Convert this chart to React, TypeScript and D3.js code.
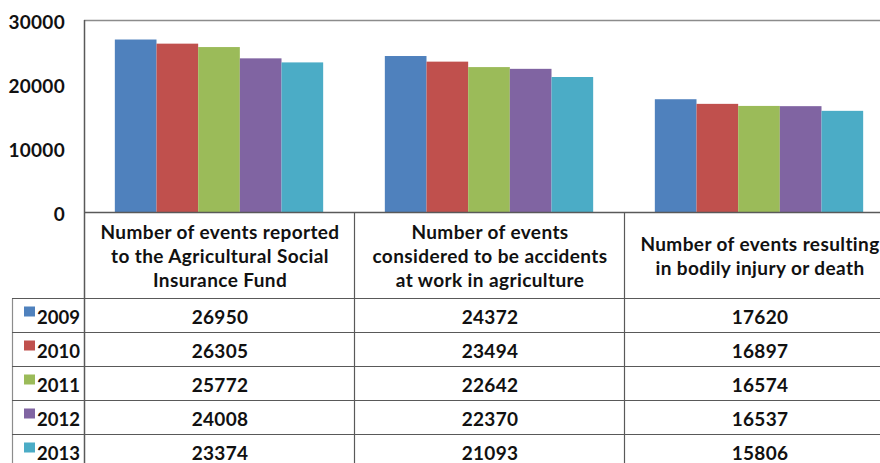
import React from "react";
import * as d3 from "d3";

const categories: string[][] = [
  ["Number of events reported", "to the Agricultural Social", "Insurance Fund"],
  ["Number of events", "considered to be accidents", "at work in agriculture"],
  ["Number of events resulting", "in bodily injury or death"],
];
const years = ["2009", "2010", "2011", "2012", "2013"];
const v2009 = [26950, 24372, 17620];
const v2010 = [26305, 23494, 16897];
const v2011 = [25772, 22642, 16574];
const v2012 = [24008, 22370, 16537];
const v2013 = [23374, 21093, 15806];
const seriesValues = [v2009, v2010, v2011, v2012, v2013];
const yTicks = [0, 10000, 20000, 30000];
const colors = ["#4F81BD", "#C0504D", "#9BBB59", "#8064A2", "#4BACC6"];

const W = 880;
const H = 463;
const plotLeft = 84;
const plotTop = 20;
const plotBottom = 212;
const headerBottom = 298.5;
const rowH = 34;
const tableLeft = 12;
const FONT = "Lato, 'Open Sans', sans-serif";

export default function App() {
  const x0 = d3
    .scaleBand<number>()
    .domain(d3.range(categories.length))
    .range([plotLeft, plotLeft + 810])
    .padding(0);
  const x1 = d3
    .scaleBand<string>()
    .domain(years)
    .range([0, x0.bandwidth()])
    .paddingInner(0)
    .paddingOuter(0.74);
  const y = d3.scaleLinear().domain([0, 30000]).range([plotBottom, plotTop]);

  const lineColor = "#595959";
  const borderColor = "#8c8c8c";

  return (
    <svg
      width={W}
      height={H}
      style={{ position: "absolute", left: 0, top: 0, background: "#fff" }}
      fontFamily={FONT}
    >
      <rect x={0} y={0} width={W} height={H} fill="#fff" />
      {/* plot border */}
      <line x1={plotLeft} x2={W} y1={plotTop + 0.5} y2={plotTop + 0.5} stroke={borderColor} strokeWidth={1.5} />
      <line x1={plotLeft + 0.5} x2={plotLeft + 0.5} y1={plotTop} y2={H} stroke={lineColor} strokeWidth={1.5} />

      {/* bars */}
      {seriesValues.map((vals, si) =>
        vals.map((v, ci) => (
          <rect
            key={`${si}-${ci}`}
            x={(x0(ci) as number) + (x1(years[si]) as number)}
            y={y(v)}
            width={x1.bandwidth()}
            height={plotBottom - y(v)}
            fill={colors[si]}
          />
        ))
      )}

      {/* y ticks */}
      {yTicks.map((t) => (
        <text
          key={t}
          x={65}
          y={y(t) + 1}
          textAnchor="end"
          dominantBaseline="central"
          fontSize={19}
          fontWeight="bold"
          letterSpacing={0.3}
          fill="#111"
        >
          {t}
        </text>
      ))}

      {/* axis line */}
      <line x1={plotLeft} x2={W} y1={plotBottom + 0.5} y2={plotBottom + 0.5} stroke={lineColor} strokeWidth={1.5} />

      {/* table vertical lines */}
      {d3.range(1, categories.length).map((i) => (
        <line
          key={i}
          x1={(x0(i) as number) + 0.5}
          x2={(x0(i) as number) + 0.5}
          y1={plotBottom}
          y2={H}
          stroke={lineColor}
          strokeWidth={1.2}
        />
      ))}
      <line x1={tableLeft + 0.5} x2={tableLeft + 0.5} y1={headerBottom} y2={H} stroke={borderColor} strokeWidth={1.2} />

      {/* horizontal table lines */}
      {d3.range(years.length + 1).map((i) => (
        <line
          key={i}
          x1={tableLeft}
          x2={W}
          y1={headerBottom + i * rowH}
          y2={headerBottom + i * rowH}
          stroke={lineColor}
          strokeWidth={1.2}
        />
      ))}

      {/* headers */}
      {categories.map((lines, ci) => {
        const cx = (x0(ci) as number) + x0.bandwidth() / 2 + 1;
        const centerY = (plotBottom + headerBottom) / 2;
        const lh = 24;
        return (
          <text
            key={ci}
            textAnchor="middle"
            fontSize={19}
            fontWeight="bold"
            letterSpacing={0.4}
            fill="#111"
          >
            {lines.map((l, li) => (
              <tspan
                key={li}
                x={cx}
                y={centerY + (li - (lines.length - 1) / 2) * lh}
                dominantBaseline="central"
              >
                {l}
              </tspan>
            ))}
          </text>
        );
      })}

      {/* rows */}
      {years.map((yr, si) => {
        const cy = headerBottom + si * rowH + rowH / 2 + 1;
        return (
          <g key={yr}>
            <rect x={24} y={cy - 10} width={11} height={10} fill={colors[si]} />
            <text x={37} y={cy} dominantBaseline="central" fontSize={18.5} fontWeight="bold" fill="#111">
              {yr}
            </text>
            {seriesValues[si].map((v, ci) => (
              <text
                key={ci}
                x={(x0(ci) as number) + x0.bandwidth() / 2 + 1}
                y={cy}
                textAnchor="middle"
                dominantBaseline="central"
                fontSize={19}
                fontWeight="bold"
                letterSpacing={0.3}
                fill="#111"
              >
                {v}
              </text>
            ))}
          </g>
        );
      })}
    </svg>
  );
}
